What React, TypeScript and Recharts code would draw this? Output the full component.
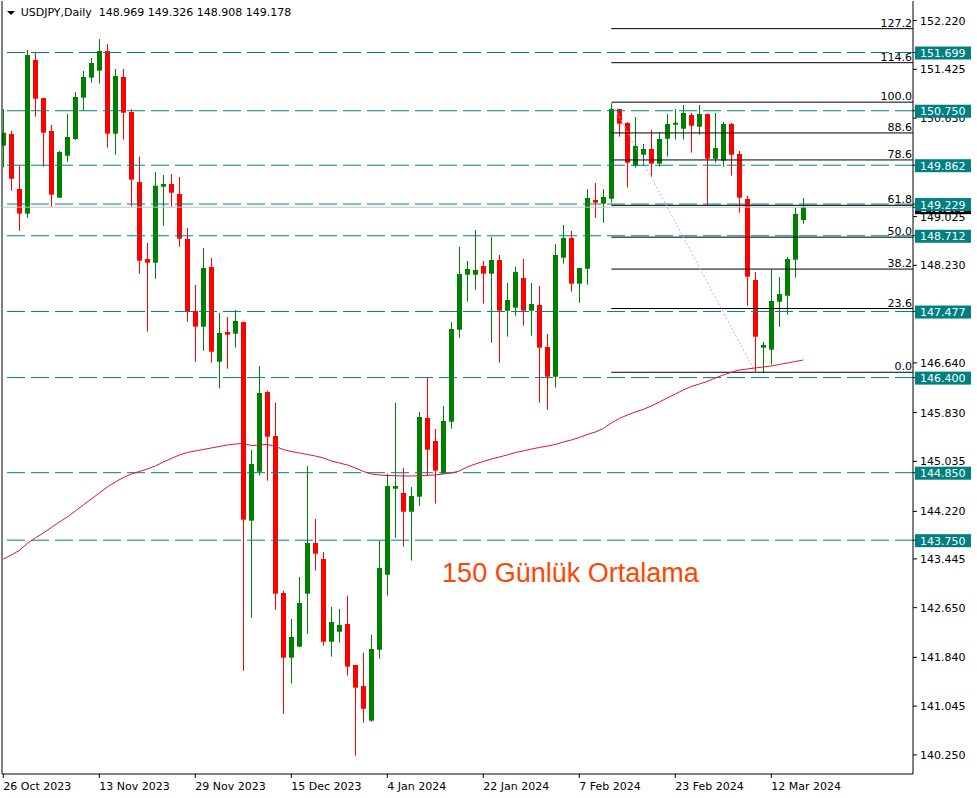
import React from 'react';
import { ComposedChart, Bar, Line, XAxis, YAxis, ReferenceLine, ReferenceDot } from 'recharts';

const tickIdx = [0, 12, 24, 36, 48, 60, 72, 84, 96];
const tickLabels = ['26 Oct 2023', '13 Nov 2023', '29 Nov 2023', '15 Dec 2023', '4 Jan 2024', '22 Jan 2024', '7 Feb 2024', '23 Feb 2024', '12 Mar 2024'];

const opens = [
  150.180, 150.371, 149.474, 149.072, 151.577, 150.958, 150.420, 149.333, 150.017, 150.289,
  150.963, 151.289, 151.403, 151.724, 150.376, 151.300, 150.729, 149.588, 148.333, 148.273,
  149.512, 149.556, 149.393, 148.659, 147.486, 147.230, 148.203, 146.659, 147.143, 147.116,
  147.306, 144.068, 144.866, 146.165, 145.448, 142.889, 141.835, 142.014, 142.878, 143.704,
  143.443, 142.095, 142.258, 142.384, 141.716, 141.373, 140.808, 141.965, 143.187, 144.589,
  144.519, 144.214, 144.459, 145.742, 145.367, 144.834, 145.681, 147.181, 148.077, 148.077,
  148.219, 148.094, 148.317, 147.491, 147.540, 148.024, 147.491, 147.584, 146.899, 146.415,
  148.355, 148.676, 147.931, 148.175, 149.295, 149.235, 149.316, 150.778, 150.550, 149.854,
  150.033, 150.126, 149.887, 150.294, 150.522, 150.457, 150.681, 150.490, 150.697, 149.968,
  149.936, 150.534, 150.045, 149.311, 147.991, 146.888, 146.855, 147.637, 147.735, 148.322,
  148.969,
];
const highs = [
  150.778, 150.420, 149.861, 151.740, 151.696, 150.958, 150.518, 150.094, 150.697, 151.055,
  151.398, 151.610, 151.919, 151.838, 151.430, 151.430, 150.778, 150.001, 148.594, 149.751,
  149.703, 149.719, 149.670, 148.839, 147.910, 148.513, 148.350, 147.453, 147.388, 147.502,
  147.306, 145.220, 146.589, 146.187, 145.991, 142.927, 142.465, 143.150, 144.959, 144.095,
  143.557, 142.661, 142.628, 142.845, 141.716, 141.916, 142.205, 143.742, 144.834, 145.986,
  144.927, 144.617, 145.839, 146.405, 145.562, 145.937, 147.306, 148.529, 148.301, 148.806,
  148.301, 148.692, 148.399, 147.942, 148.203, 148.333, 147.942, 147.893, 147.111, 148.578,
  148.888, 148.790, 148.187, 149.474, 149.572, 149.474, 150.890, 150.778, 150.566, 150.648,
  150.208, 150.436, 150.403, 150.697, 150.778, 150.844, 150.713, 150.844, 150.697, 150.713,
  150.566, 150.550, 150.094, 149.365, 148.121, 146.985, 148.159, 148.040, 148.366, 149.165,
  149.326,
];
const lows = [
  149.828, 149.447, 148.795, 149.007, 150.653, 149.838, 149.186, 149.333, 149.919, 150.273,
  150.757, 151.207, 151.191, 150.148, 150.033, 150.278, 149.186, 148.094, 147.148, 148.012,
  148.876, 149.186, 148.534, 147.311, 146.659, 146.839, 146.643, 146.226, 146.545, 146.888,
  141.623, 142.487, 144.801, 144.720, 142.617, 140.922, 141.411, 142.014, 142.226, 143.253,
  142.030, 141.851, 142.079, 141.541, 140.237, 140.775, 140.791, 141.818, 142.845, 143.791,
  143.644, 143.416, 144.312, 144.801, 144.345, 144.834, 145.567, 147.051, 147.637, 147.833,
  147.605, 146.969, 146.643, 147.067, 147.409, 147.246, 147.083, 145.991, 145.877, 146.236,
  148.257, 147.800, 147.621, 147.914, 149.007, 148.925, 149.251, 150.327, 149.496, 149.821,
  149.854, 149.675, 149.838, 150.001, 150.278, 150.278, 150.066, 150.359, 149.202, 149.903,
  149.838, 149.691, 149.088, 147.572, 146.487, 146.487, 146.610, 147.230, 147.425, 148.029,
  148.908,
];
const closes = [
  150.392, 149.642, 149.072, 151.659, 150.946, 150.392, 149.381, 150.077, 150.322, 150.974,
  151.300, 151.528, 151.724, 150.376, 151.316, 150.718, 149.626, 148.306, 148.273, 149.528,
  149.556, 149.414, 148.664, 147.474, 147.230, 148.187, 146.822, 147.127, 147.099, 147.323,
  144.084, 144.992, 146.149, 145.437, 142.878, 141.835, 142.172, 142.726, 143.704, 143.530,
  142.095, 142.416, 142.368, 141.688, 141.346, 141.003, 141.976, 143.297, 144.633, 144.633,
  144.214, 144.470, 145.758, 145.225, 144.883, 145.693, 147.192, 148.089, 148.170, 148.154,
  148.094, 148.317, 147.491, 147.665, 148.121, 147.491, 147.600, 146.888, 146.415, 148.399,
  148.676, 147.931, 148.187, 149.328, 149.251, 149.344, 150.778, 150.539, 149.903, 150.175,
  150.126, 149.887, 150.289, 150.534, 150.555, 150.713, 150.506, 150.697, 149.968, 150.143,
  150.534, 150.033, 149.333, 148.045, 147.067, 146.932, 147.649, 147.763, 148.333, 149.067,
  149.178,
];
const ma150 = [
  143.443, 143.509, 143.582, 143.696, 143.786, 143.867, 143.957, 144.046, 144.128, 144.226,
  144.324, 144.421, 144.519, 144.617, 144.698, 144.772, 144.829, 144.870, 144.910, 144.959,
  145.024, 145.081, 145.139, 145.179, 145.204, 145.228, 145.253, 145.277, 145.302, 145.318,
  145.326, 145.293, 145.302, 145.310, 145.277, 145.228, 145.196, 145.171, 145.147, 145.122,
  145.090, 145.041, 145.008, 144.976, 144.927, 144.870, 144.829, 144.813, 144.804, 144.801,
  144.796, 144.796, 144.799, 144.808, 144.813, 144.829, 144.845, 144.878, 144.943, 144.992,
  145.033, 145.073, 145.106, 145.139, 145.179, 145.204, 145.236, 145.261, 145.285, 145.310,
  145.350, 145.383, 145.424, 145.473, 145.513, 145.570, 145.660, 145.733, 145.791, 145.839,
  145.883, 145.937, 146.002, 146.068, 146.133, 146.198, 146.255, 146.296, 146.337, 146.394,
  146.443, 146.487, 146.524, 146.540, 146.557, 146.573, 146.589, 146.614, 146.638, 146.663,
  146.687,
];

const levelLines = [151.699, 150.750, 149.862, 149.229, 148.712, 147.477, 146.400, 144.850, 143.750];
const fibLevels = ['127.2', '114.6', '100.0', '88.6', '78.6', '61.8', '50.0', '38.2', '23.6', '0.0'];
const fibPrices = [152.088, 151.533, 150.890, 150.388, 149.948, 149.208, 148.689, 148.169, 147.526, 146.487];
const fibStartIdx = 76;
const fibEndIdx = 94;
const bidPrice = 149.178;
const yTicks = [152.220, 151.425, 150.630, 149.025, 148.230, 146.640, 145.830, 145.035, 144.220, 143.445, 142.650, 141.840, 141.045, 140.250];
const maLabel = '150 Günlük Ortalama';
const headerText = 'USDJPY,Daily  148.969 149.326 148.908 149.178';

const data = opens.map((o, i) => ({
  i,
  o,
  h: highs[i],
  l: lows[i],
  c: closes[i],
  ma: ma150[i],
  range: [lows[i], highs[i]],
}));

// plain ticks first, then the bid box, then the level boxes (drawn on top)
const axisTicks = [...yTicks, bidPrice, ...levelLines];

const X_MIN = -0.1625;
const X_MAX = 113.7125;
const Y_MIN = 139.9388;
const Y_MAX = 152.5387;
const FONT = 'DejaVu Sans';

const Candle = (props: any) => {
  const { x, y, width, height, payload } = props;
  if (x == null || y == null || !payload) return null;
  const top = Math.min(y, y + height);
  const hpx = Math.abs(height);
  const { o, h, l, c } = payload;
  const k = h - l > 0 ? hpx / (h - l) : 0;
  const cx = Math.round(x + width / 2) + 0.5;
  const color = c >= o ? '#008000' : '#FF0000';
  const bTop = top + (h - Math.max(o, c)) * k;
  const bBot = top + (h - Math.min(o, c)) * k;
  return (
    <g>
      <line x1={cx} x2={cx} y1={top} y2={top + hpx} stroke={color} strokeWidth={1} />
      <rect x={cx - 2.5} y={bTop} width={5} height={Math.max(1.5, bBot - bTop)} fill={color} />
    </g>
  );
};

const DateTick = (p: any) => {
  const idx = tickIdx.indexOf(p.payload.value);
  return (
    <text x={p.x} y={p.y} dy="0.71em" textAnchor="start" fontSize={11} fontFamily={FONT} fill="#000">
      {idx >= 0 ? tickLabels[idx] : ''}
    </text>
  );
};

const PriceTick = (p: any) => {
  const v = p.payload.value;
  const isLevel = levelLines.indexOf(v) >= 0;
  const isBid = v === bidPrice;
  if (isLevel || isBid) {
    const bx = p.x - 5;
    return (
      <g>
        <rect x={bx} y={p.y - 6} width={56} height={13} fill={isBid ? '#000' : '#008080'} />
        <text x={bx + 5} y={p.y + 0.5} dy="0.36em" fill="#fff" fontSize={11} fontFamily={FONT}>
          {v.toFixed(3)}
        </text>
      </g>
    );
  }
  return (
    <text x={p.x} y={p.y} dy="0.36em" fill="#000" fontSize={11} fontFamily={FONT}>
      {v.toFixed(3)}
    </text>
  );
};

const fibLabel = (text: string) => (lp: any) => {
  const vb = lp.viewBox || {};
  return (
    <text x={(vb.x || 0) + (vb.width || 0) - 1} y={(vb.y || 0) - 2} textAnchor="end" fill="#000" fontSize={11} fontFamily={FONT}>
      {text}
    </text>
  );
};

const maTextLabel = (lp: any) => {
  const vb = lp.viewBox || {};
  return (
    <text x={(vb.x || 0) + 3} y={(vb.y || 0) + 1} fill="#FF4500" fontSize={27} fontFamily="Liberation Sans">
      {maLabel}
    </text>
  );
};

export default function App() {
  return (
    <div style={{ position: 'absolute', left: 0, top: 0, width: 977, height: 798, background: '#fff', overflow: 'hidden' }}>
      <ComposedChart width={977} height={798} data={data} margin={{ top: 1, right: 0, bottom: 0, left: 2 }}>
        <XAxis
          type="number"
          dataKey="i"
          domain={[X_MIN, X_MAX]}
          allowDataOverflow
          ticks={tickIdx}
          interval={0}
          height={24}
          tickSize={4}
          tickMargin={4}
          axisLine={{ stroke: '#000', strokeWidth: 1 }}
          tickLine={{ stroke: '#000' }}
          tick={DateTick}
        />
        <YAxis
          type="number"
          orientation="right"
          domain={[Y_MIN, Y_MAX]}
          allowDataOverflow
          ticks={axisTicks}
          interval={0}
          width={64}
          tickSize={4}
          tickMargin={3}
          axisLine={{ stroke: '#000', strokeWidth: 1 }}
          tickLine={{ stroke: '#000' }}
          tick={PriceTick}
        />
        <ReferenceLine x={X_MIN} stroke="#000" strokeWidth={1} ifOverflow="visible" />
        <ReferenceLine y={bidPrice} stroke="#C0C0C0" strokeWidth={1} />
        {levelLines.map((v) => (
          <ReferenceLine key={'lv' + v} y={v} stroke="#008080" strokeWidth={1} strokeDasharray="18 6" />
        ))}
        {fibPrices.map((p, k) => (
          <ReferenceLine
            key={'fib' + k}
            segment={[{ x: fibStartIdx, y: p }, { x: X_MAX, y: p }]}
            stroke="#000"
            strokeWidth={1}
            ifOverflow="visible"
            label={fibLabel(fibLevels[k])}
          />
        ))}
        <ReferenceLine
          segment={[{ x: fibStartIdx, y: fibPrices[2] }, { x: fibEndIdx, y: fibPrices[9] }]}
          stroke="#DDA0DD"
          strokeWidth={1}
          strokeDasharray="2 2"
          ifOverflow="visible"
        />
        <ReferenceDot x={54.6} y={143.073} r={1} fill="none" stroke="none" ifOverflow="visible" label={maTextLabel} />
        <Line type="linear" dataKey="ma" stroke="#DC143C" strokeWidth={1} dot={false} activeDot={false} isAnimationActive={false} />
        <Bar dataKey="range" barSize={5} shape={Candle} isAnimationActive={false} />
      </ComposedChart>
      <div
        style={{
          position: 'absolute', left: 7, top: 11, width: 0, height: 0,
          borderLeft: '4px solid transparent', borderRight: '4px solid transparent', borderTop: '4px solid #000',
        }}
      />
      <div
        style={{
          position: 'absolute', left: 20.7, top: 6, fontFamily: FONT, fontSize: 11, lineHeight: '13px',
          whiteSpace: 'pre', color: '#000',
        }}
      >
        {headerText}
      </div>
    </div>
  );
}
